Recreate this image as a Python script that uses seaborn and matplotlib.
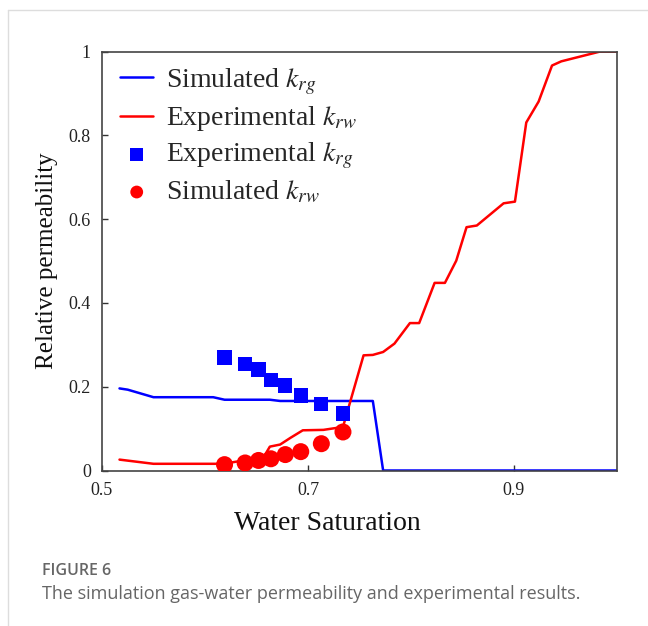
import matplotlib
matplotlib.use("Agg")
import matplotlib.pyplot as plt
from matplotlib.lines import Line2D
import seaborn as sns
import pandas as pd

# Simulated k_rg (blue line)
sim_krg_sw = [0.517, 0.525, 0.55, 0.608, 0.619, 0.663, 0.673, 0.763, 0.773, 1.0]
sim_krg = [0.196, 0.193, 0.175, 0.175, 0.169, 0.169, 0.166, 0.166, 0.0, 0.0]

# Experimental k_rw (red line)
exp_krw_sw = [0.517, 0.55, 0.618, 0.657, 0.663, 0.673, 0.683, 0.695, 0.715, 0.734,
              0.754, 0.763, 0.773, 0.784, 0.799, 0.808, 0.823, 0.833, 0.844, 0.854,
              0.864, 0.890, 0.901, 0.912, 0.924, 0.937, 0.946, 0.983, 1.0]
exp_krw = [0.026, 0.016, 0.016, 0.032, 0.057, 0.062, 0.078, 0.096, 0.097, 0.104,
           0.275, 0.276, 0.283, 0.303, 0.352, 0.352, 0.448, 0.448, 0.501, 0.581,
           0.585, 0.638, 0.642, 0.831, 0.881, 0.967, 0.977, 1.0, 1.0]

# Experimental k_rg (blue squares)
exp_krg_sw = [0.619, 0.639, 0.652, 0.664, 0.678, 0.693, 0.713, 0.734]
exp_krg = [0.270, 0.255, 0.241, 0.217, 0.203, 0.179, 0.158, 0.136]

# Simulated k_rw (red circles)
sim_krw_sw = [0.619, 0.639, 0.652, 0.664, 0.678, 0.693, 0.713, 0.734]
sim_krw = [0.014, 0.018, 0.024, 0.028, 0.038, 0.045, 0.064, 0.092]

x_ticks = [0.5, 0.7, 0.9]
y_ticks = [0, 0.2, 0.4, 0.6, 0.8, 1.0]
y_tick_labels = ["0", "0.2", "0.4", "0.6", "0.8", "1"]

sns.set_theme(style="white")
plt.rcParams["font.family"] = ["Liberation Serif", "DejaVu Serif"]
plt.rcParams["mathtext.fontset"] = "stix"

fig = plt.figure(figsize=(6.48, 6.26), dpi=100)
ax = fig.add_axes([0.1574, 0.2484, 0.7946, 0.669])

df1 = pd.DataFrame({"sw": sim_krg_sw, "k": sim_krg})
df2 = pd.DataFrame({"sw": exp_krw_sw, "k": exp_krw})
df3 = pd.DataFrame({"sw": exp_krg_sw, "k": exp_krg})
df4 = pd.DataFrame({"sw": sim_krw_sw, "k": sim_krw})

sns.lineplot(data=df1, x="sw", y="k", ax=ax, color="#0000ff", lw=1.8, sort=False,
             label="Simulated $k_{rg}$")
sns.lineplot(data=df2, x="sw", y="k", ax=ax, color="#ff0000", lw=1.8, sort=False,
             label="Experimental $k_{rw}$")
sns.scatterplot(data=df3, x="sw", y="k", ax=ax, color="#0000ff", marker="s", s=105,
                edgecolor="none", label="Experimental $k_{rg}$", zorder=3)
sns.scatterplot(data=df4, x="sw", y="k", ax=ax, color="#ff0000", marker="o", s=150,
                edgecolor="none", label="Simulated $k_{rw}$", zorder=3)

ax.set_xlim(0.5, 1.0)
ax.set_ylim(0, 1.0)
ax.set_xticks(x_ticks)
ax.set_xticklabels([f"{v:g}" for v in x_ticks])
ax.set_yticks(y_ticks)
ax.set_yticklabels(y_tick_labels)
ax.tick_params(direction="in", length=4, width=1, colors="#333333",
               labelsize=13, labelcolor="#222222", pad=8, bottom=True, left=True)
for sp in ax.spines.values():
    sp.set_color("#444444")
    sp.set_linewidth(1.2)
    sp.set_visible(True)

ax.set_xlabel("Water Saturation", fontsize=20, color="#111111")
ax.xaxis.set_label_coords(0.437, -0.097)
ax.set_ylabel("Relative permeability", fontsize=18, color="#111111", labelpad=8)

leg = ax.legend(loc="upper left", frameon=False, fontsize=20, handlelength=1.2,
                handletextpad=0.45, labelspacing=0.27, borderaxespad=0.25,
                bbox_to_anchor=(0.0, 1.008))
for h in leg.legend_handles:
    try:
        h.set_sizes([85])
    except AttributeError:
        pass

# card border lines
fig.add_artist(Line2D([8/648, 8/648], [0, 1 - 10/626], transform=fig.transFigure,
                      color="#dddddd", lw=1))
fig.add_artist(Line2D([8/648, 1], [1 - 10/626, 1 - 10/626], transform=fig.transFigure,
                      color="#dddddd", lw=1))

fig.text(42/648, 1 - 571/626, "FIGURE 6", fontsize=11.5, fontweight="semibold",
         color="#666666", family=["Open Sans", "DejaVu Sans"], va="center", ha="left")
fig.text(42/648, 1 - 594/626, "The simulation gas-water permeability and experimental results.",
         fontsize=13, color="#666666", family=["Open Sans", "DejaVu Sans"],
         va="center", ha="left")

fig.savefig("out.png", dpi=100)
